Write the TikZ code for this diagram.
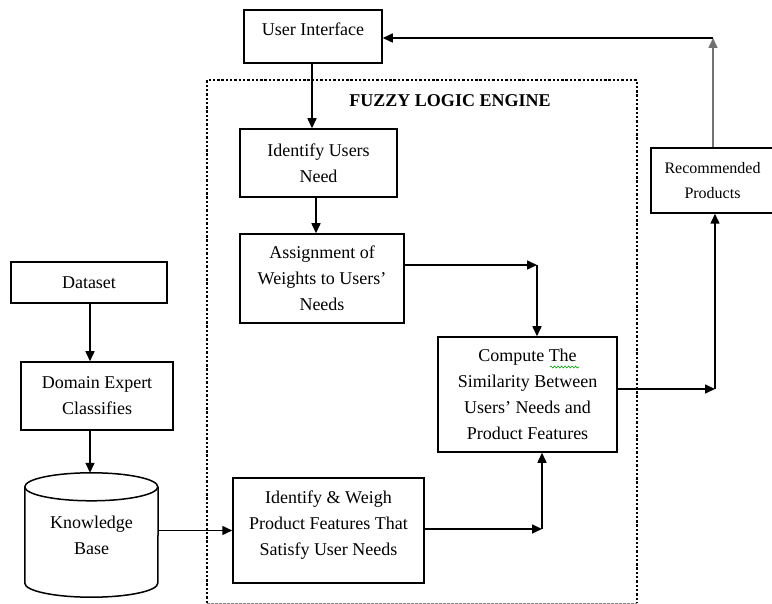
\documentclass[tikz,border=0pt]{standalone}
\usepackage{fontspec}
\setmainfont{Liberation Serif}
\usetikzlibrary{arrows.meta,decorations.pathmorphing}
\tikzset{
  box/.style={draw=black, line width=1.5pt, rectangle, align=center, inner sep=0pt,
    font=\fontsize{18}{26}\selectfont},
  conn/.style={line width=1.5pt, -{Triangle[length=10pt,width=9pt]}},
  frame/.style={line width=2.6pt, dash pattern=on 2.4pt off 1.9pt},
}
\begin{document}
\begin{tikzpicture}[x=1pt,y=-1pt]
\useasboundingbox (0,0) rectangle (772,604);

% dotted frame
\draw[frame] (207,603) -- (207,80) -- (637,80) -- (637,603);
\draw[gray, line width=0.9pt, dash pattern=on 2.5pt off 1.5pt] (207,603) -- (637,603);
\node[font=\fontsize{18}{22}\selectfont\bfseries] (title) at (450,101) {FUZZY LOGIC ENGINE};

% nodes
\node[box, minimum width=138pt, minimum height=53pt, text depth=14pt] (ui) at (313,36.5) {User Interface};
\node[box, minimum width=157pt, minimum height=68pt] (iun) at (318.5,163) {Identify Users\\Need};
\node[box, minimum width=164pt, minimum height=89pt] (asg) at (322,278.5) {Assignment of\\Weights to Users'\\Needs};
\node[box, minimum width=179pt, minimum height=115pt] (cmp) at (527.5,394.5) {Compute The\\Similarity Between\\Users' Needs and\\Product Features};
\node[box, minimum width=191pt, minimum height=105pt, text depth=14pt] (iw) at (328.5,530.5) {Identify \& Weigh\\Product Features That\\Satisfy User Needs};
\node[box, minimum width=156pt, minimum height=41pt] (ds) at (89,282.5) {Dataset};
\node[box, minimum width=152pt, minimum height=68pt] (dec) at (97,396) {Domain Expert\\Classifies};
\node[box, minimum width=123pt, minimum height=65pt, font=\fontsize{16}{25}\selectfont] (rec) at (712.5,180.5) {Recommended\\Products};

% knowledge base cylinder
\node[align=center, inner sep=0pt, minimum width=133pt, minimum height=124pt,
  font=\fontsize{18}{26}\selectfont] (kb) at (91.5,535) {Knowledge\\Base};
\draw[line width=1.5pt] (kb.north west) ++(0,14) arc[start angle=180, end angle=-180, x radius=66.5pt, y radius=14pt];
\draw[line width=1.5pt] ([yshift=-14pt]kb.north west) -- ([yshift=14pt]kb.south west)
  arc[start angle=180, end angle=360, x radius=66.5pt, y radius=14pt]
  -- ([yshift=-14pt]kb.north east);

% spell-check squiggle
\draw[green!60!black, line width=0.6pt, decorate, decoration={snake, amplitude=1pt, segment length=3.5pt}] (550,367) -- (579,367);

% corner coordinates
\coordinate (c1) at (537,265);
\coordinate (c2) at (542,529);
\coordinate (c3) at (715,389);
\coordinate (c4) at (713,38);

% connectors
\draw[conn] (ui.south -| 312,0) -- (iun.north -| 312,0);
\draw[conn] (iun.south -| 316,0) -- (asg.north -| 316,0);
\draw[conn] (ds.south -| 90,0) -- (dec.north -| 90,0);
\draw[conn] (dec.south -| 90,0) -- (kb.north -| 90,0);
\draw[conn] (kb.east |- iw.west) -- (iw.west);
\draw[conn] (asg.east |- c1) -- (c1);
\draw[conn] (c1) -- (c1 |- cmp.north);
\draw[conn] (iw.east |- c2) -- (c2);
\draw[conn] (c2) -- (c2 |- cmp.south);
\draw[conn] (cmp.east |- c3) -- (c3);
\draw[conn] (c3) -- (c3 |- rec.south);
\draw[conn, draw=black!55] (rec.north -| c4) -- (c4);
\draw[conn] (c4) -- (c4 -| ui.east);
\end{tikzpicture}
\end{document}
